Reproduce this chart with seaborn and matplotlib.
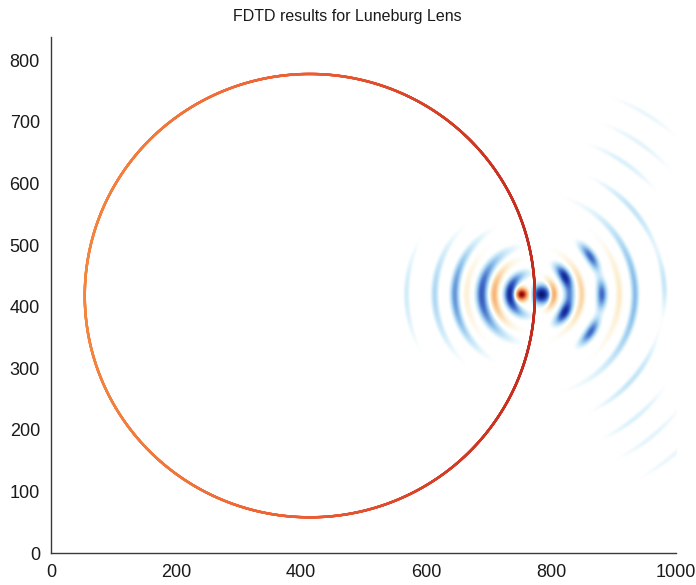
import numpy as np
import pandas as pd
import matplotlib
matplotlib.use("Agg")
import matplotlib.pyplot as plt
from matplotlib.colors import LinearSegmentedColormap
import seaborn as sns

# Simulation domain (grid cells)
domain_x = [0, 1000]
domain_y = [0, 838]

# Luneburg lens outline: centre and radius
lens_center = [414, 418]
lens_radius = 360

# Focal spot: position of the field source and the two core lobes
source_xy = [768, 420]
core_offset = [-16, 16]        # x offset of red / blue lobes
core_amp = [1.0, -1.0]
core_sigma = [7, 9]

# Wavefront arcs around the focal spot
arc_radius = [35, 60, 60, 60, 80, 112, 112, 112, 140, 165, 212, 212, 212, 260, 260, 300, 300, 345, 345,
              35, 60, 80, 104, 123, 155, 200]
arc_amp = [0.5, -0.3, -0.85, -0.85, 0.25, -0.55, -0.55, -0.55, 0.15, -0.28, -0.13, -0.13, -0.12,
           -0.08, -0.08, -0.065, -0.065, -0.055, -0.055,
           -0.85, 0.38, -0.6, 0.12, -0.4, -0.18, -0.1]
arc_dir = [0, 0, 28, -28, 0, 0, 33, -33, 0, 0, 40, -40, 5, 55, -50, 55, -50, 58, -50,
           180, 180, 180, 180, 180, 180, 180]
arc_spread = [40, 14, 18, 18, 45, 11, 11, 11, 35, 45, 18, 18, 12, 13, 13, 12, 12, 10, 10,
              55, 48, 45, 38, 36, 32, 22]
arc_width = [4.5, 5, 5.5, 5.5, 4, 5, 5, 5, 4, 4, 3.5, 3.5, 3.5, 3.5, 3.5, 3.5, 3.5, 3.5, 3.5,
             5.5, 4.5, 5.5, 4, 4.5, 4, 3.5]

title = "FDTD results for Luneburg Lens"
xticks = [0, 200, 400, 600, 800, 1000]
yticks = [0, 100, 200, 300, 400, 500, 600, 700, 800]

# ---- build the field map ------------------------------------------------
gx = np.arange(domain_x[0], domain_x[1], 1.0) + 0.5
gy = np.arange(domain_y[0], domain_y[1], 1.0) + 0.5
X, Y = np.meshgrid(gx, gy)
dx = X - source_xy[0]
dy = Y - source_xy[1]
R = np.hypot(dx, dy)
TH = np.degrees(np.arctan2(dy, dx))

field = np.zeros_like(X)
for off, a, s in zip(core_offset, core_amp, core_sigma):
    field += a * np.exp(-((dx - off) ** 2 + dy ** 2) / (2 * s ** 2))
for r0, a, d, sp, w in zip(arc_radius, arc_amp, arc_dir, arc_spread, arc_width):
    dth = (TH - d + 180) % 360 - 180
    field += a * np.exp(-((R - r0) / w) ** 2 / 2) * np.exp(-(dth / sp) ** 2)

field_cmap = LinearSegmentedColormap.from_list(
    "field",
    [(0.0, "#0a1670"), (0.12, "#1c36a8"), (0.25, "#4a74cc"), (0.38, "#98c8ee"),
     (0.46, "#daf1fb"), (0.49, "#ffffff"), (0.51, "#ffffff"), (0.56, "#fdf1d6"),
     (0.66, "#f8c48c"), (0.78, "#ee8450"), (0.9, "#c8321c"), (1.0, "#780a0a")], N=1024)

sns.set_style("white")
plt.rcParams["font.family"] = ["Liberation Sans", "DejaVu Sans"]

fig = plt.figure(figsize=(6.96, 5.85), dpi=100)
ax = fig.add_axes([0.0733, 0.0547, 0.898, 0.882])

ax.imshow(field, origin="lower", extent=[domain_x[0], domain_x[1], domain_y[0], domain_y[1]],
          cmap=field_cmap, vmin=-1, vmax=1, interpolation="bilinear", aspect="auto", zorder=1)

# Lens outline, shaded along x
t = np.linspace(0, 2 * np.pi, 5000)
ring = pd.DataFrame({"x": lens_center[0] + lens_radius * np.cos(t),
                     "y": lens_center[1] + lens_radius * np.sin(t)})
ring_cmap = LinearSegmentedColormap.from_list("ring", ["#f4843e", "#ec5c34", "#c42a1c"])
sns.scatterplot(data=ring, x="x", y="y", hue="x", palette=ring_cmap, s=3.2,
                linewidth=0, legend=False, ax=ax, zorder=3)

ax.set_xlim(domain_x)
ax.set_ylim(domain_y)
ax.set_xticks(xticks)
ax.set_yticks(yticks)
ax.set_xlabel("")
ax.set_ylabel("")
ax.tick_params(axis="both", length=0, labelsize=13, colors="#1a1a1a", pad=8)
for side in ["top", "right"]:
    ax.spines[side].set_visible(False)
for side in ["left", "bottom"]:
    ax.spines[side].set_color("#3a3a3a")
    ax.spines[side].set_linewidth(1.0)

fig.text(347 / 696, 1 - 17 / 585, title, ha="center", va="center", fontsize=11.5, color="#1a1a1a")

fig.savefig("out.png", dpi=100)
